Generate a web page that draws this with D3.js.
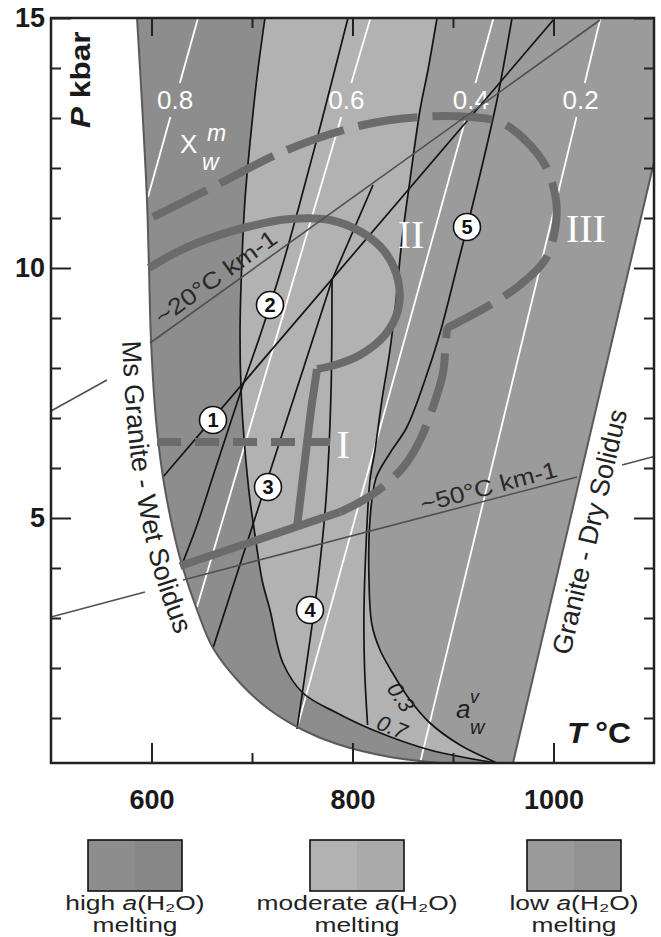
<!DOCTYPE html>
<html>
<head>
<meta charset="utf-8">
<script src="https://cdn.jsdelivr.net/npm/d3@7/dist/d3.min.js"></script>
<style>
html,body{margin:0;padding:0;background:#fff;}
svg{display:block;}
text{font-family:"Liberation Sans",Arial,Helvetica,sans-serif;}
</style>
</head>
<body>
<svg id="chart" width="661" height="937"></svg>
<script>
// ---------------- data (T in °C, P in kbar) ----------------
const tempMajorTicks = [600, 800, 1000];
const tempMinorTicks = [700, 900];
const pressMajorTicks = [5, 10, 15];
const pressMinorTicks = [1, 2, 3, 4, 6, 7, 8, 9, 11, 12, 13, 14];

const wetSolidus = [[585.6,15.0],[591.5,12.96],[595.5,11.36],[597.5,10.0],[599.5,8.56],[604.5,6.96],[611.4,5.82],[620.4,4.86],[630.3,4.06],[645.3,3.16],[661.2,2.40],[688.1,1.70],[717.9,1.16],[750.7,0.76],[784.6,0.48],[837.3,0.22],[887.1,0.10]];
const drySolidus = [[959.7,0.10],[1100,12.12]];

const aw07 = [[712.9,15.0],[705.0,13.82],[698.0,12.50],[693.0,11.36],[690.0,10.16],[688.1,8.76],[689.1,7.56],[693.0,6.36],[698.0,5.36],[703.0,4.66],[710.0,3.76],[717.9,3.16],[730.8,2.10],[750.7,1.50],[784.6,1.10],[820.4,0.76],[877.1,0.36],[943.8,0.10]];
const aw03 = [[958.7,15.0],[943.8,13.36],[923.9,11.62],[904.0,10.02],[887.1,8.70],[872.1,7.76],[854.2,6.82],[837.3,6.30],[823.4,5.80],[817.4,4.96],[816.4,3.76],[819.4,2.86],[827.4,2.36],[839.3,1.92],[857.2,1.36],[877.1,0.90],[907.0,0.46],[943.8,0.10]];
const boundaryC = [[884.1,15.0],[875.1,13.96],[867.2,13.16],[857.2,11.76],[849.2,10.56],[843.3,9.36],[837.3,8.36],[829.3,7.36],[822.4,6.36],[817.4,5.76],[813.4,4.42],[811.4,3.10],[812.0,2.00],[815.0,0.86]];

const reaction1 = [[611.4,5.82],[1001.5,15.0]];
const reaction2 = [[795.5,15.0],[769.6,12.96],[745.8,11.16],[728.9,9.96],[709.9,8.76],[691.0,7.66],[663.2,5.96],[645.3,4.86],[631.3,4.12]];
const reaction3 = [[779.6,9.76],[661.2,2.40]];
const reaction4 = [[779.6,9.76],[778.6,7.50],[773.6,5.36],[765.7,3.76],[757.7,2.56],[744.8,0.78]];
const reactionE = [[820.4,11.66],[779.6,9.76]];

const geotherm20 = [[[500,7.14],[555.7,7.76]],[[598.5,8.50],[1046.3,14.96]]];
const geotherm50 = [[[500,3.02],[593.5,3.52]],[[631.3,3.76],[1023.4,5.82]],[[1068.2,6.06],[1100,6.23]]];

const xwValues = ["0.8", "0.6", "0.4", "0.2"];
const xwLines = [[[646.3,15.0],[596.5,11.42]],[[817.9,15.0],[645.3,3.22]],[[940.3,15.0],[744.8,0.80]],[[1046.8,15.0],[867.2,0.10]]];

const pathI = [[605.5,6.52],[777.6,6.52]];
const pathIILoop = [[597.5,10.00],[623.4,10.30],[645.3,10.50],[695.0,10.82],[737.8,10.98],[777.6,10.96],[810.4,10.70],[832.3,10.32],[845.3,9.76],[845.3,9.16],[832.3,8.66],[807.5,8.26],[782.6,8.06],[764.7,7.98]];
const pathIIDescent = [[764.7,7.98],[758.7,7.16],[752.7,6.16],[744.8,4.82]];
const pathBase = [[628.4,4.04],[787.6,5.12]];
const pathIII = [[601.5,11.02],[661.2,11.62],[734.8,12.36],[810.4,12.86],[867.2,13.02],[916.9,13.02],[946.8,12.92],[969.6,12.60],[991.5,12.06],[1002.5,11.36],[1001.5,10.76],[991.5,10.16],[966.7,9.66],[936.8,9.26],[902.0,8.88],[895.0,8.80],[893.0,8.56],[890.0,7.90],[879.1,7.16],[867.2,6.56],[852.2,6.06],[832.3,5.66],[807.5,5.32],[787.6,5.12]];

const reactionIds = ["1", "2", "3", "4", "5"];
const reactionAt = [[661.2,6.96],[717.9,9.26],[715.9,5.62],[757.7,3.16],[913.9,10.82]];
const pathNames = ["I", "II", "III"];
const pathNameAt = [[790.6,6.2],[858.3,10.4],[1032.2,10.52]];

const legendNames = ["high", "moderate", "low"];

// ---------------- styles ----------------
const C = {
  high: "#8d8d8d", highB: "#878787",
  mod: "#b2b2b2", modB: "#aaaaaa",
  low: "#9b9b9b", lowB: "#939393",
  path: "#6b6b6b", black: "#141414", geo: "#505050", edge: "#5a5a5a", frame: "#222"
};

// ---------------- setup ----------------
const svg = d3.select("#chart");
const x = d3.scaleLinear().domain([500, 1100]).range([51, 654]);
const y = d3.scaleLinear().domain([0.1, 15]).range([763, 18]);
const smooth = d3.line().x(d => x(d[0])).y(d => y(d[1])).curve(d3.curveCatmullRom.alpha(0.5));
const straight = d3.line().x(d => x(d[0])).y(d => y(d[1]));
const rev = (gen, pts) => "L" + gen(pts.slice().reverse()).slice(1);

const defs = svg.append("defs");
defs.append("clipPath").attr("id", "clip").append("rect")
  .attr("x", x(500)).attr("y", y(15)).attr("width", x(1100) - x(500)).attr("height", y(0.1) - y(15));

const plot = svg.append("g").attr("clip-path", "url(#clip)");

// ---------------- fills ----------------
const wetD = smooth(wetSolidus);
const regionD = wetD + `L${x(drySolidus[0][0])},${y(drySolidus[0][1])}L${x(drySolidus[1][0])},${y(drySolidus[1][1])}L${x(1100)},${y(15)}Z`;
plot.append("path").attr("d", regionD).attr("fill", C.low);
plot.append("path").attr("d", smooth(aw07) + rev(smooth, aw03) + "Z").attr("fill", C.mod);
plot.append("path").attr("d", smooth(boundaryC.slice(0, 10)) + rev(smooth, aw03.slice(0, 9)) + "Z").attr("fill", C.low);
plot.append("path").attr("d", wetD + rev(smooth, aw07) + "Z").attr("fill", C.high);

// ---------------- white xw isopleths ----------------
const gapTop = 13.70, gapBot = 13.02, labelP = 13.36;
const tAt = (seg, P) => seg[0][0] + (P - seg[0][1]) / (seg[1][1] - seg[0][1]) * (seg[1][0] - seg[0][0]);
xwLines.forEach((seg, i) => {
  const parts = [[seg[0], [tAt(seg, gapTop), gapTop]], [[tAt(seg, gapBot), gapBot], seg[1]]];
  parts.forEach(p => plot.append("path").attr("d", straight(p)).attr("fill", "none")
    .attr("stroke", "#fff").attr("stroke-width", 1.8));
  plot.append("text").attr("x", x(tAt(seg, labelP))).attr("y", y(labelP)).attr("dy", "0.36em")
    .attr("text-anchor", "middle").attr("fill", "#fff").attr("font-size", 26).text(xwValues[i]);
});

// ---------------- geotherms ----------------
[...geotherm20, ...geotherm50].forEach(seg => {
  svg.append("path").attr("d", straight(seg)).attr("fill", "none").attr("stroke", C.geo).attr("stroke-width", 1.6);
});

// ---------------- black reaction / activity lines ----------------
[aw07, aw03, boundaryC, reaction2, reaction4].forEach(l =>
  plot.append("path").attr("d", smooth(l)).attr("fill", "none").attr("stroke", C.black).attr("stroke-width", 1.7));
[reaction1, reaction3, reactionE].forEach(l =>
  plot.append("path").attr("d", straight(l)).attr("fill", "none").attr("stroke", C.black).attr("stroke-width", 1.7));

// solidus edges
plot.append("path").attr("d", wetD).attr("fill", "none").attr("stroke", C.edge).attr("stroke-width", 2);
plot.append("path").attr("d", straight(drySolidus)).attr("fill", "none").attr("stroke", C.edge).attr("stroke-width", 2);

// ---------------- thick P-T paths ----------------
const thick = (d, dash) => plot.append("path").attr("d", d).attr("fill", "none")
  .attr("stroke", C.path).attr("stroke-width", 8).attr("stroke-dasharray", dash || null)
  .attr("stroke-linejoin", "round");
thick(smooth(pathIILoop));
thick(straight(pathIIDescent));
thick(straight(pathBase));
thick(smooth(pathIII), "60,15");
thick(straight(pathI), "24,14");

// ---------------- reaction labels ----------------
reactionIds.forEach((id, i) => {
  const g = svg.append("g").attr("transform", `translate(${x(reactionAt[i][0])},${y(reactionAt[i][1])})`);
  g.append("circle").attr("r", 13.5).attr("fill", "#fff").attr("stroke", "#111").attr("stroke-width", 1.6);
  g.append("text").attr("text-anchor", "middle").attr("dy", "0.36em").attr("font-size", 20)
    .attr("font-weight", "bold").attr("fill", "#111").text(id);
});
pathNames.forEach((n, i) => {
  svg.append("text").attr("x", x(pathNameAt[i][0])).attr("y", y(pathNameAt[i][1]))
    .attr("text-anchor", "middle").attr("fill", "#fff").attr("font-size", 40)
    .style("font-family", '"Liberation Serif","Times New Roman",serif').text(n);
});

// ---------------- other labels ----------------
function labelAlong(seg, startX, off, txt, size, sx) {
  const p0 = [x(seg[0][0]), y(seg[0][1])], p1 = [x(seg[1][0]), y(seg[1][1])];
  let dx = p1[0] - p0[0], dy = p1[1] - p0[1]; const m = Math.hypot(dx, dy); dx /= m; dy /= m;
  const t = (startX - p0[0]) / (p1[0] - p0[0]);
  const px = p0[0] + t * (p1[0] - p0[0]) + dy * off, py = p0[1] + t * (p1[1] - p0[1]) - dx * off;
  svg.append("text").attr("transform", `translate(${px},${py}) rotate(${Math.atan2(dy, dx) * 180 / Math.PI}) scale(${sx},1)`)
    .attr("font-size", size).attr("fill", "#2a2a2a").text(txt);
}
labelAlong(geotherm20[1], 166, 7, "~20°C km-1", 23, 1.18);
labelAlong(geotherm50[1], 424, 5, "~50°C km-1", 23, 1.15);

function offsetPts(d, off, n) {
  const tmp = svg.append("path").attr("d", d).attr("fill", "none");
  const el = tmp.node(), L = el.getTotalLength(), pts = [];
  for (let i = 0; i <= n; i++) {
    const s = L * i / n, p = el.getPointAtLength(s);
    const a = el.getPointAtLength(Math.max(0, s - 1)), b = el.getPointAtLength(Math.min(L, s + 1));
    let dx = b.x - a.x, dy = b.y - a.y; const m = Math.hypot(dx, dy) || 1; dx /= m; dy /= m;
    pts.push([p.x - dy * off, p.y + dx * off]);
  }
  tmp.remove();
  return pts;
}
function pathLabel(id, pts, test, txt, size) {
  defs.append("path").attr("id", id).attr("d", d3.line()(pts));
  let s = 0;
  for (let i = 1; i < pts.length; i++) {
    if (test(pts[i])) break;
    s += Math.hypot(pts[i][0] - pts[i - 1][0], pts[i][1] - pts[i - 1][1]);
  }
  svg.append("text").attr("font-size", size).attr("fill", "#222")
    .append("textPath").attr("href", "#" + id).attr("startOffset", s).text(txt);
}
pathLabel("wetLab", offsetPts(wetD, 29, 300), p => p[1] >= 343, "Ms Granite - Wet Solidus", 27);
pathLabel("dryLab", offsetPts(straight(drySolidus), 31, 100), p => p[1] <= 652, "Granite - Dry Solidus", 27);

// X_w^m
const xw = svg.append("g").attr("fill", "#fff");
xw.append("text").attr("x", 180).attr("y", 153).attr("font-size", 26).text("X");
xw.append("text").attr("x", 207).attr("y", 141).attr("font-size", 23).attr("font-style", "italic").text("m");
xw.append("text").attr("x", 202).attr("y", 170).attr("font-size", 23).attr("font-style", "italic").text("w");
// a_w^v
const av = svg.append("g").attr("fill", "#222").attr("font-style", "italic");
av.append("text").attr("x", 456).attr("y", 718).attr("font-size", 26).text("a");
av.append("text").attr("x", 470).attr("y", 703).attr("font-size", 18).text("v");
av.append("text").attr("x", 470).attr("y", 734).attr("font-size", 20).text("w");
svg.append("text").attr("transform", "translate(401,697) rotate(56)").attr("text-anchor", "middle").attr("dy", "0.35em")
  .attr("font-size", 22).attr("font-style", "italic").attr("fill", "#222").text("0.3");
svg.append("text").attr("transform", "translate(392,727) rotate(22)").attr("text-anchor", "middle").attr("dy", "0.35em")
  .attr("font-size", 22).attr("font-style", "italic").attr("fill", "#222").text("0.7");

// ---------------- axes ----------------
const tickStyle = g => { g.select(".domain").remove(); g.selectAll("line").attr("stroke", C.frame).attr("stroke-width", 2); };
svg.append("g").attr("transform", `translate(0,${y(0.1)})`).call(d3.axisTop(x).tickValues(tempMajorTicks).tickSize(20).tickFormat("")).call(tickStyle);
svg.append("g").attr("transform", `translate(0,${y(0.1)})`).call(d3.axisTop(x).tickValues(tempMinorTicks).tickSize(10).tickFormat("")).call(tickStyle);
svg.append("g").attr("transform", `translate(0,${y(15)})`).call(d3.axisBottom(x).tickValues(tempMajorTicks).tickSize(18).tickFormat("")).call(tickStyle);
svg.append("g").attr("transform", `translate(0,${y(15)})`).call(d3.axisBottom(x).tickValues(tempMinorTicks).tickSize(10).tickFormat("")).call(tickStyle);
svg.append("g").attr("transform", `translate(${x(500)},0)`).call(d3.axisRight(y).tickValues(pressMajorTicks).tickSize(20).tickFormat("")).call(tickStyle);
svg.append("g").attr("transform", `translate(${x(500)},0)`).call(d3.axisRight(y).tickValues(pressMinorTicks).tickSize(10).tickFormat("")).call(tickStyle);
svg.append("g").attr("transform", `translate(${x(1100)},0)`).call(d3.axisLeft(y).tickValues(pressMajorTicks).tickSize(20).tickFormat("")).call(tickStyle);
svg.append("g").attr("transform", `translate(${x(1100)},0)`).call(d3.axisLeft(y).tickValues(pressMinorTicks).tickSize(10).tickFormat("")).call(tickStyle);

const labStyle = g => { g.select(".domain").remove(); g.selectAll("text").attr("font-size", 27).attr("font-weight", "bold").attr("fill", "#1a1a1a").style("font-family", '"Liberation Sans",Arial,sans-serif'); };
svg.append("g").attr("transform", `translate(0,${y(0.1)})`).call(d3.axisBottom(x).tickValues(tempMajorTicks).tickSize(0).tickPadding(27).tickFormat(d3.format("d"))).call(labStyle);
svg.append("g").attr("transform", `translate(${x(500)},0)`).call(d3.axisLeft(y).tickValues(pressMajorTicks).tickSize(0).tickPadding(6).tickFormat(d3.format("d"))).call(labStyle);

// frame
svg.append("rect").attr("x", x(500)).attr("y", y(15)).attr("width", x(1100) - x(500)).attr("height", y(0.1) - y(15))
  .attr("fill", "none").attr("stroke", C.frame).attr("stroke-width", 2.5);

// axis titles
const pt = svg.append("text").attr("transform", "translate(90,128) rotate(-90) scale(1.17,1)").attr("font-size", 27).attr("font-weight", "bold").attr("fill", "#1a1a1a");
pt.append("tspan").attr("font-style", "italic").text("P");
pt.append("tspan").text(" kbar");
const tt = svg.append("text").attr("transform", "translate(567,743) scale(1.1,1)").attr("font-size", 29).attr("font-weight", "bold").attr("fill", "#1a1a1a");
tt.append("tspan").attr("font-style", "italic").text("T");
tt.append("tspan").text(" °C");

// ---------------- legend ----------------
const legendFill = [[C.high, C.highB], [C.mod, C.modB], [C.low, C.lowB]];
const legendX = [88, 310, 527];
legendNames.forEach((n, i) => {
  const bx = legendX[i], bw = 94, by = 840, bh = 51;
  svg.append("rect").attr("x", bx).attr("y", by).attr("width", bw / 2).attr("height", bh).attr("fill", legendFill[i][0]);
  svg.append("rect").attr("x", bx + bw / 2).attr("y", by).attr("width", bw / 2).attr("height", bh).attr("fill", legendFill[i][1]);
  svg.append("rect").attr("x", bx).attr("y", by).attr("width", bw).attr("height", bh).attr("fill", "none").attr("stroke", "#111").attr("stroke-width", 1.6);
  const t = svg.append("text").attr("transform", `translate(${bx + bw / 2},910) scale(1.32,1)`).attr("text-anchor", "middle").attr("font-size", 20).attr("fill", "#222");
  t.append("tspan").text(n + " ");
  t.append("tspan").attr("font-style", "italic").text("a");
  t.append("tspan").text("(H\u2082O)");
  svg.append("text").attr("transform", `translate(${bx + bw / 2},932) scale(1.32,1)`).attr("text-anchor", "middle").attr("font-size", 20).attr("fill", "#222").text("melting");
});
</script>
</body>
</html>
